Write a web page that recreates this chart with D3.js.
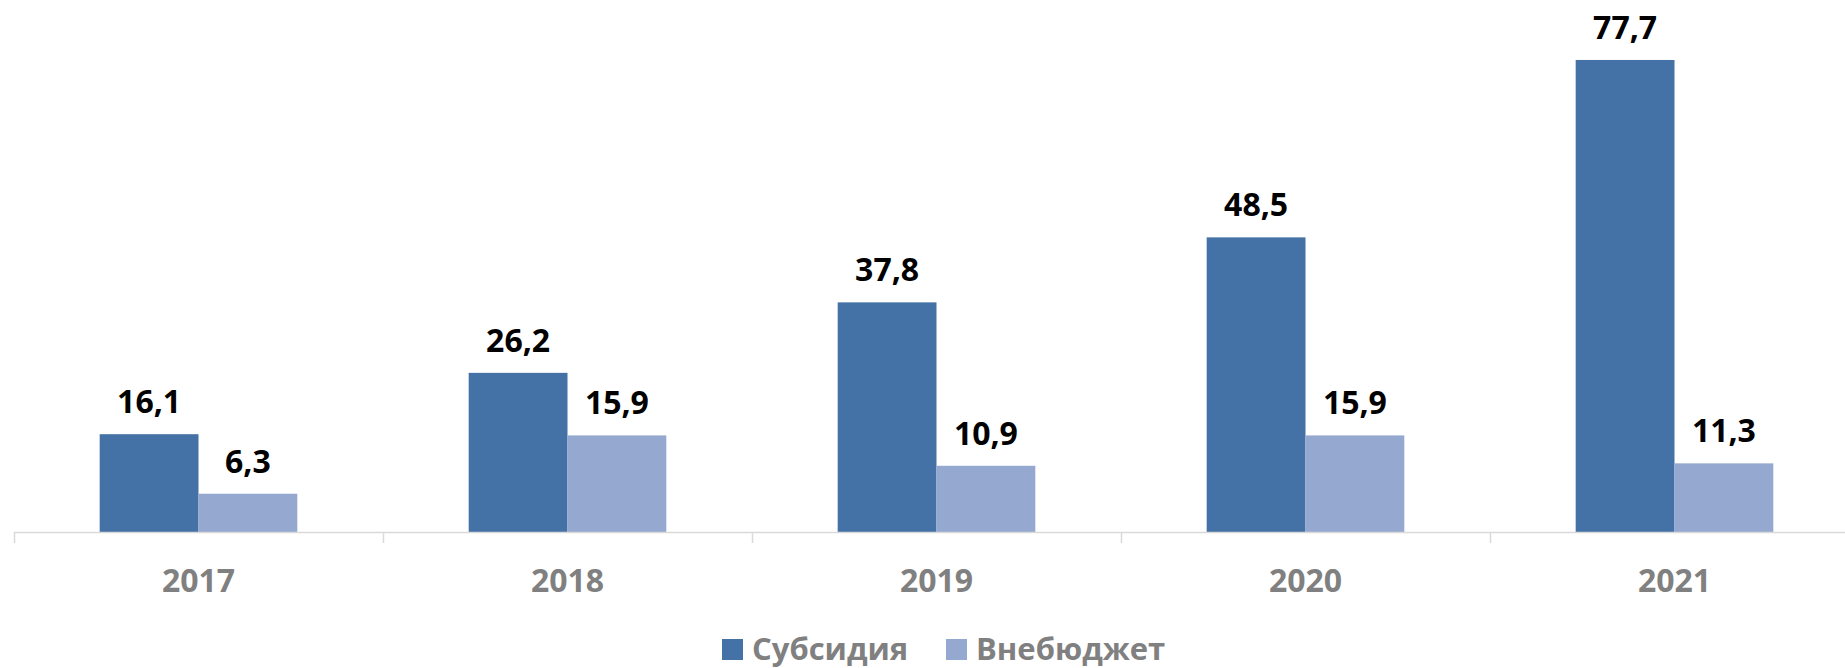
<!DOCTYPE html>
<html>
<head>
<meta charset="UTF-8">
<title></title>
<script src="https://d3js.org/d3.v7.min.js"></script>
<style>
  html, body { margin: 0; padding: 0; background: #fff; }
  svg { display: block; font-family: "Open Sans", sans-serif; font-weight: bold; }
</style>
</head>
<body>
<div id="chart"></div>
<script>
  // данные
  const years = ['2017', '2018', '2019', '2020', '2021']
  const series = ['Субсидия', 'Внебюджет']
  const subsidy = [16.1, 26.2, 37.8, 48.5, 77.7]
  const offBudget = [6.3, 15.9, 10.9, 15.9, 11.3]
  const colors = ['#4472a6', '#95a9d0']

  const W = 1845, H = 668
  const svg = d3.select('#chart').append('svg').attr('width', W).attr('height', H)

  const baseY = 532
  const x0 = d3.scaleBand().domain(years).range([14, 14 + 5 * 369]).paddingInner(0).paddingOuter(0)
  const x1 = d3.scaleBand().domain(series).range([0, x0.bandwidth()]).paddingInner(0).paddingOuter(0.867)
  const y = d3.scaleLinear().domain([0, 80]).range([baseY, baseY - 80 * 6.075])

  const rows = years.map((yr, i) => ({ year: yr, vals: [subsidy[i], offBudget[i]] }))
  const fmt = v => d3.format('.1f')(v).replace('.', ',')

  const g = svg.selectAll('g.year').data(rows).enter().append('g')
    .attr('transform', d => `translate(${x0(d.year)},0)`)

  g.selectAll('rect').data(d => d.vals.map((v, k) => ({ s: series[k], v, k }))).enter().append('rect')
    .attr('x', d => x1(d.s)).attr('width', x1.bandwidth())
    .attr('y', d => y(d.v)).attr('height', d => baseY - y(d.v))
    .attr('fill', d => colors[d.k])

  g.selectAll('text').data(d => d.vals.map((v, k) => ({ s: series[k], v, k }))).enter().append('text')
    .attr('x', d => x1(d.s) + x1.bandwidth() / 2).attr('y', d => y(d.v) - 21)
    .attr('text-anchor', 'middle').attr('font-size', '32px').attr('fill', '#000')
    .text(d => fmt(d.v))

  // ось X
  const axis = svg.append('g')
  axis.append('line').attr('x1', 14).attr('x2', W).attr('y1', baseY + 0.5).attr('y2', baseY + 0.5)
    .attr('stroke', '#d9d9d9').attr('stroke-width', 1.5)
  axis.selectAll('line.tick').data(years).enter().append('line')
    .attr('x1', d => x0(d) + 0.5).attr('x2', d => x0(d) + 0.5)
    .attr('y1', baseY).attr('y2', baseY + 11)
    .attr('stroke', '#d9d9d9').attr('stroke-width', 1.5)
  axis.selectAll('text').data(years).enter().append('text')
    .attr('x', d => x0(d) + x0.bandwidth() / 2).attr('y', 592)
    .attr('text-anchor', 'middle').attr('font-size', '32px').attr('fill', '#808080')
    .text(d => d)

  // легенда
  const legendX = [722, 946]
  const leg = svg.selectAll('g.leg').data(series).enter().append('g')
    .attr('transform', (d, i) => `translate(${legendX[i]},0)`)
  leg.append('rect').attr('x', 0).attr('y', 639).attr('width', 21).attr('height', 21)
    .attr('fill', (d, i) => colors[i])
  leg.append('text').attr('x', 30).attr('y', 660).attr('font-size', '31px').attr('fill', '#808080')
    .text(d => d)
</script>
</body>
</html>
